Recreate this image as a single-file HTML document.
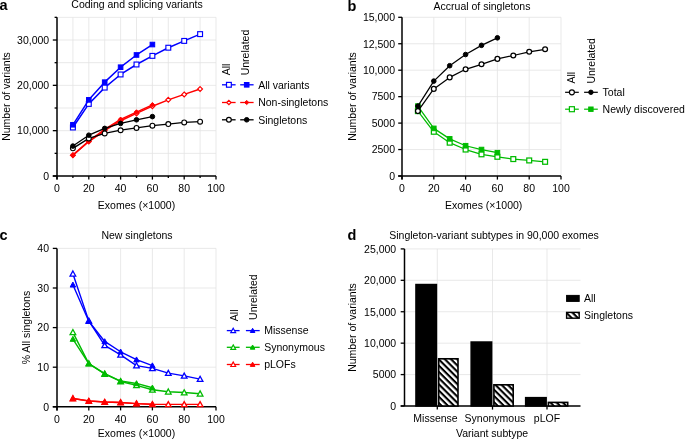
<!DOCTYPE html>
<html><head><meta charset="utf-8"><title>Figure</title><style>
html,body{margin:0;padding:0;background:#fff;overflow:hidden;}
svg{display:block;will-change:transform;}
text{font-family:"Liberation Sans",sans-serif;font-size:10.5px;fill:#000;}
.pl{font-weight:bold;font-size:14.5px;}
</style></head><body>
<svg width="685" height="440" viewBox="0 0 685 440">
<rect width="685" height="440" fill="#fff"/>
<line x1="72.9" y1="17.3" x2="72.9" y2="176" stroke="#e3e3e3" stroke-width="0.8" />
<line x1="88.8" y1="17.3" x2="88.8" y2="176" stroke="#e3e3e3" stroke-width="0.8" />
<line x1="104.7" y1="17.3" x2="104.7" y2="176" stroke="#e3e3e3" stroke-width="0.8" />
<line x1="120.6" y1="17.3" x2="120.6" y2="176" stroke="#e3e3e3" stroke-width="0.8" />
<line x1="136.5" y1="17.3" x2="136.5" y2="176" stroke="#e3e3e3" stroke-width="0.8" />
<line x1="152.4" y1="17.3" x2="152.4" y2="176" stroke="#e3e3e3" stroke-width="0.8" />
<line x1="168.3" y1="17.3" x2="168.3" y2="176" stroke="#e3e3e3" stroke-width="0.8" />
<line x1="184.2" y1="17.3" x2="184.2" y2="176" stroke="#e3e3e3" stroke-width="0.8" />
<line x1="200.1" y1="17.3" x2="200.1" y2="176" stroke="#e3e3e3" stroke-width="0.8" />
<line x1="216" y1="17.3" x2="216" y2="176" stroke="#e3e3e3" stroke-width="0.8" />
<line x1="57" y1="153.34" x2="216" y2="153.34" stroke="#e3e3e3" stroke-width="0.8" />
<line x1="57" y1="130.67" x2="216" y2="130.67" stroke="#e3e3e3" stroke-width="0.8" />
<line x1="57" y1="108.01" x2="216" y2="108.01" stroke="#e3e3e3" stroke-width="0.8" />
<line x1="57" y1="85.34" x2="216" y2="85.34" stroke="#e3e3e3" stroke-width="0.8" />
<line x1="57" y1="62.68" x2="216" y2="62.68" stroke="#e3e3e3" stroke-width="0.8" />
<line x1="57" y1="40.01" x2="216" y2="40.01" stroke="#e3e3e3" stroke-width="0.8" />
<line x1="57" y1="17.34" x2="216" y2="17.34" stroke="#e3e3e3" stroke-width="0.8" />
<line x1="57" y1="17.3" x2="57" y2="179.6" stroke="#000" stroke-width="1.5" />
<line x1="52.8" y1="176" x2="216" y2="176" stroke="#000" stroke-width="1.5" />
<line x1="52.8" y1="176" x2="57" y2="176" stroke="#000" stroke-width="1.3" />
<line x1="54.6" y1="153.34" x2="57" y2="153.34" stroke="#000" stroke-width="1.3" />
<line x1="52.8" y1="130.67" x2="57" y2="130.67" stroke="#000" stroke-width="1.3" />
<line x1="54.6" y1="108.01" x2="57" y2="108.01" stroke="#000" stroke-width="1.3" />
<line x1="52.8" y1="85.34" x2="57" y2="85.34" stroke="#000" stroke-width="1.3" />
<line x1="54.6" y1="62.68" x2="57" y2="62.68" stroke="#000" stroke-width="1.3" />
<line x1="52.8" y1="40.01" x2="57" y2="40.01" stroke="#000" stroke-width="1.3" />
<line x1="54.6" y1="17.34" x2="57" y2="17.34" stroke="#000" stroke-width="1.3" />
<line x1="57" y1="176" x2="57" y2="179.6" stroke="#000" stroke-width="1.3" />
<line x1="72.9" y1="176" x2="72.9" y2="177.9" stroke="#000" stroke-width="1.3" />
<line x1="88.8" y1="176" x2="88.8" y2="179.6" stroke="#000" stroke-width="1.3" />
<line x1="104.7" y1="176" x2="104.7" y2="177.9" stroke="#000" stroke-width="1.3" />
<line x1="120.6" y1="176" x2="120.6" y2="179.6" stroke="#000" stroke-width="1.3" />
<line x1="136.5" y1="176" x2="136.5" y2="177.9" stroke="#000" stroke-width="1.3" />
<line x1="152.4" y1="176" x2="152.4" y2="179.6" stroke="#000" stroke-width="1.3" />
<line x1="168.3" y1="176" x2="168.3" y2="177.9" stroke="#000" stroke-width="1.3" />
<line x1="184.2" y1="176" x2="184.2" y2="179.6" stroke="#000" stroke-width="1.3" />
<line x1="200.1" y1="176" x2="200.1" y2="177.9" stroke="#000" stroke-width="1.3" />
<line x1="216" y1="176" x2="216" y2="179.6" stroke="#000" stroke-width="1.3" />
<text x="49.2" y="179.8" text-anchor="end" >0</text>
<text x="49.2" y="134.47" text-anchor="end" >10,000</text>
<text x="49.2" y="89.14" text-anchor="end" >20,000</text>
<text x="49.2" y="43.81" text-anchor="end" >30,000</text>
<text x="57" y="191.8" text-anchor="middle" >0</text>
<text x="88.8" y="191.8" text-anchor="middle" >20</text>
<text x="120.6" y="191.8" text-anchor="middle" >40</text>
<text x="152.4" y="191.8" text-anchor="middle" >60</text>
<text x="184.2" y="191.8" text-anchor="middle" >80</text>
<text x="216" y="191.8" text-anchor="middle" >100</text>
<text x="136.5" y="208.8" text-anchor="middle" >Exomes (×1000)</text>
<text transform="translate(10,96.5) rotate(-90)" text-anchor="middle">Number of variants</text>
<text x="137" y="8" text-anchor="middle" >Coding and splicing variants</text>
<polyline points="72.9,127.5 88.8,103.93 104.7,87.61 120.6,74.46 136.5,64.49 152.4,55.88 168.3,47.72 184.2,40.92 200.1,34.12" fill="none" stroke="#0000ff" stroke-width="1.5" stroke-linejoin="round"/>
<rect x="70.48" y="125.07" width="4.85" height="4.85" fill="#fff" stroke="#0000ff" stroke-width="1.15"/>
<rect x="86.38" y="101.5" width="4.85" height="4.85" fill="#fff" stroke="#0000ff" stroke-width="1.15"/>
<rect x="102.28" y="85.18" width="4.85" height="4.85" fill="#fff" stroke="#0000ff" stroke-width="1.15"/>
<rect x="118.17" y="72.04" width="4.85" height="4.85" fill="#fff" stroke="#0000ff" stroke-width="1.15"/>
<rect x="134.07" y="62.06" width="4.85" height="4.85" fill="#fff" stroke="#0000ff" stroke-width="1.15"/>
<rect x="149.97" y="53.45" width="4.85" height="4.85" fill="#fff" stroke="#0000ff" stroke-width="1.15"/>
<rect x="165.88" y="45.29" width="4.85" height="4.85" fill="#fff" stroke="#0000ff" stroke-width="1.15"/>
<rect x="181.77" y="38.49" width="4.85" height="4.85" fill="#fff" stroke="#0000ff" stroke-width="1.15"/>
<rect x="197.67" y="31.69" width="4.85" height="4.85" fill="#fff" stroke="#0000ff" stroke-width="1.15"/>
<polyline points="72.9,124.78 88.8,99.85 104.7,82.17 120.6,67.21 136.5,54.97 152.4,44.54" fill="none" stroke="#0000ff" stroke-width="1.5" stroke-linejoin="round"/>
<rect x="70.6" y="122.48" width="4.6" height="4.6" fill="#0000ff" stroke="#0000ff" stroke-width="1"/>
<rect x="86.5" y="97.55" width="4.6" height="4.6" fill="#0000ff" stroke="#0000ff" stroke-width="1"/>
<rect x="102.4" y="79.87" width="4.6" height="4.6" fill="#0000ff" stroke="#0000ff" stroke-width="1"/>
<rect x="118.3" y="64.91" width="4.6" height="4.6" fill="#0000ff" stroke="#0000ff" stroke-width="1"/>
<rect x="134.2" y="52.67" width="4.6" height="4.6" fill="#0000ff" stroke="#0000ff" stroke-width="1"/>
<rect x="150.1" y="42.24" width="4.6" height="4.6" fill="#0000ff" stroke="#0000ff" stroke-width="1"/>
<polyline points="72.9,155.15 88.8,141.55 104.7,130.67 120.6,120.7 136.5,113.44 152.4,106.19 168.3,99.85 184.2,94.41 200.1,88.97" fill="none" stroke="#ff0000" stroke-width="1.5" stroke-linejoin="round"/>
<path d="M72.9,152.72L75.33,155.15L72.9,157.57L70.48,155.15Z" fill="#fff" stroke="#ff0000" stroke-width="1.15" stroke-linejoin="miter"/>
<path d="M88.8,139.12L91.22,141.55L88.8,143.97L86.38,141.55Z" fill="#fff" stroke="#ff0000" stroke-width="1.15" stroke-linejoin="miter"/>
<path d="M104.7,128.25L107.12,130.67L104.7,133.1L102.28,130.67Z" fill="#fff" stroke="#ff0000" stroke-width="1.15" stroke-linejoin="miter"/>
<path d="M120.6,118.27L123.02,120.7L120.6,123.12L118.17,120.7Z" fill="#fff" stroke="#ff0000" stroke-width="1.15" stroke-linejoin="miter"/>
<path d="M136.5,111.02L138.93,113.44L136.5,115.87L134.07,113.44Z" fill="#fff" stroke="#ff0000" stroke-width="1.15" stroke-linejoin="miter"/>
<path d="M152.4,103.77L154.83,106.19L152.4,108.62L149.97,106.19Z" fill="#fff" stroke="#ff0000" stroke-width="1.15" stroke-linejoin="miter"/>
<path d="M168.3,97.42L170.73,99.85L168.3,102.27L165.88,99.85Z" fill="#fff" stroke="#ff0000" stroke-width="1.15" stroke-linejoin="miter"/>
<path d="M184.2,91.98L186.62,94.41L184.2,96.83L181.77,94.41Z" fill="#fff" stroke="#ff0000" stroke-width="1.15" stroke-linejoin="miter"/>
<path d="M200.1,86.54L202.53,88.97L200.1,91.39L197.67,88.97Z" fill="#fff" stroke="#ff0000" stroke-width="1.15" stroke-linejoin="miter"/>
<polyline points="72.9,155.15 88.8,141.1 104.7,129.31 120.6,119.34 136.5,112.08 152.4,104.83" fill="none" stroke="#ff0000" stroke-width="1.5" stroke-linejoin="round"/>
<path d="M72.9,152.85L75.2,155.15L72.9,157.45L70.6,155.15Z" fill="#ff0000" stroke="#ff0000" stroke-width="1" stroke-linejoin="miter"/>
<path d="M88.8,138.8L91.1,141.1L88.8,143.4L86.5,141.1Z" fill="#ff0000" stroke="#ff0000" stroke-width="1" stroke-linejoin="miter"/>
<path d="M104.7,127.01L107,129.31L104.7,131.61L102.4,129.31Z" fill="#ff0000" stroke="#ff0000" stroke-width="1" stroke-linejoin="miter"/>
<path d="M120.6,117.04L122.9,119.34L120.6,121.64L118.3,119.34Z" fill="#ff0000" stroke="#ff0000" stroke-width="1" stroke-linejoin="miter"/>
<path d="M136.5,109.78L138.8,112.08L136.5,114.38L134.2,112.08Z" fill="#ff0000" stroke="#ff0000" stroke-width="1" stroke-linejoin="miter"/>
<path d="M152.4,102.53L154.7,104.83L152.4,107.13L150.1,104.83Z" fill="#ff0000" stroke="#ff0000" stroke-width="1" stroke-linejoin="miter"/>
<polyline points="72.9,148.35 88.8,138.38 104.7,133.39 120.6,130.22 136.5,127.95 152.4,125.68 168.3,124.1 184.2,122.42 200.1,121.69" fill="none" stroke="#000" stroke-width="1.3" stroke-linejoin="round"/>
<circle cx="72.9" cy="148.35" r="2.42" fill="#fff" stroke="#000" stroke-width="1.15"/>
<circle cx="88.8" cy="138.38" r="2.42" fill="#fff" stroke="#000" stroke-width="1.15"/>
<circle cx="104.7" cy="133.39" r="2.42" fill="#fff" stroke="#000" stroke-width="1.15"/>
<circle cx="120.6" cy="130.22" r="2.42" fill="#fff" stroke="#000" stroke-width="1.15"/>
<circle cx="136.5" cy="127.95" r="2.42" fill="#fff" stroke="#000" stroke-width="1.15"/>
<circle cx="152.4" cy="125.68" r="2.42" fill="#fff" stroke="#000" stroke-width="1.15"/>
<circle cx="168.3" cy="124.1" r="2.42" fill="#fff" stroke="#000" stroke-width="1.15"/>
<circle cx="184.2" cy="122.42" r="2.42" fill="#fff" stroke="#000" stroke-width="1.15"/>
<circle cx="200.1" cy="121.69" r="2.42" fill="#fff" stroke="#000" stroke-width="1.15"/>
<polyline points="72.9,146.08 88.8,135.2 104.7,128.4 120.6,123.42 136.5,119.79 152.4,116.62" fill="none" stroke="#000" stroke-width="1.3" stroke-linejoin="round"/>
<circle cx="72.9" cy="146.08" r="2.3" fill="#000" stroke="#000" stroke-width="1"/>
<circle cx="88.8" cy="135.2" r="2.3" fill="#000" stroke="#000" stroke-width="1"/>
<circle cx="104.7" cy="128.4" r="2.3" fill="#000" stroke="#000" stroke-width="1"/>
<circle cx="120.6" cy="123.42" r="2.3" fill="#000" stroke="#000" stroke-width="1"/>
<circle cx="136.5" cy="119.79" r="2.3" fill="#000" stroke="#000" stroke-width="1"/>
<circle cx="152.4" cy="116.62" r="2.3" fill="#000" stroke="#000" stroke-width="1"/>
<text transform="translate(229.8,75.3) rotate(-90)" text-anchor="start">All</text>
<text transform="translate(249.2,75.3) rotate(-90)" text-anchor="start">Unrelated</text>
<line x1="222" y1="84.8" x2="235.6" y2="84.8" stroke="#0000ff" stroke-width="1.3" />
<line x1="240.2" y1="84.8" x2="253.6" y2="84.8" stroke="#0000ff" stroke-width="1.3" />
<rect x="226.5" y="82.4" width="4.8" height="4.8" fill="#fff" stroke="#0000ff" stroke-width="1.2"/>
<rect x="244.4" y="82.5" width="4.6" height="4.6" fill="#0000ff" stroke="#0000ff" stroke-width="1"/>
<text x="258.2" y="88.6" text-anchor="start" >All variants</text>
<line x1="222" y1="102.5" x2="235.6" y2="102.5" stroke="#ff0000" stroke-width="1.3" />
<line x1="240.2" y1="102.5" x2="253.6" y2="102.5" stroke="#ff0000" stroke-width="1.3" />
<path d="M228.9,100.3L231.1,102.5L228.9,104.7L226.7,102.5Z" fill="#fff" stroke="#ff0000" stroke-width="1.2" stroke-linejoin="miter"/>
<path d="M246.7,100.4L248.8,102.5L246.7,104.6L244.6,102.5Z" fill="#ff0000" stroke="#ff0000" stroke-width="1" stroke-linejoin="miter"/>
<text x="258.2" y="106.3" text-anchor="start" >Non-singletons</text>
<line x1="222" y1="119.8" x2="235.6" y2="119.8" stroke="#000" stroke-width="1.3" />
<line x1="240.2" y1="119.8" x2="253.6" y2="119.8" stroke="#000" stroke-width="1.3" />
<circle cx="228.9" cy="119.8" r="2.4" fill="#fff" stroke="#000" stroke-width="1.2"/>
<circle cx="246.7" cy="119.8" r="2.3" fill="#000" stroke="#000" stroke-width="1"/>
<text x="258.2" y="123.6" text-anchor="start" >Singletons</text>
<line x1="433.8" y1="17.3" x2="433.8" y2="176" stroke="#e3e3e3" stroke-width="0.8" />
<line x1="465.6" y1="17.3" x2="465.6" y2="176" stroke="#e3e3e3" stroke-width="0.8" />
<line x1="497.4" y1="17.3" x2="497.4" y2="176" stroke="#e3e3e3" stroke-width="0.8" />
<line x1="529.2" y1="17.3" x2="529.2" y2="176" stroke="#e3e3e3" stroke-width="0.8" />
<line x1="561" y1="17.3" x2="561" y2="176" stroke="#e3e3e3" stroke-width="0.8" />
<line x1="402" y1="149.55" x2="561" y2="149.55" stroke="#e3e3e3" stroke-width="0.8" />
<line x1="402" y1="123.1" x2="561" y2="123.1" stroke="#e3e3e3" stroke-width="0.8" />
<line x1="402" y1="96.65" x2="561" y2="96.65" stroke="#e3e3e3" stroke-width="0.8" />
<line x1="402" y1="70.2" x2="561" y2="70.2" stroke="#e3e3e3" stroke-width="0.8" />
<line x1="402" y1="43.75" x2="561" y2="43.75" stroke="#e3e3e3" stroke-width="0.8" />
<line x1="402" y1="17.3" x2="561" y2="17.3" stroke="#e3e3e3" stroke-width="0.8" />
<line x1="402" y1="17.3" x2="402" y2="179.6" stroke="#000" stroke-width="1.5" />
<line x1="398.2" y1="176" x2="561" y2="176" stroke="#000" stroke-width="1.5" />
<line x1="398.2" y1="176" x2="402" y2="176" stroke="#000" stroke-width="1.3" />
<text x="395" y="179.8" text-anchor="end" >0</text>
<line x1="398.2" y1="149.55" x2="402" y2="149.55" stroke="#000" stroke-width="1.3" />
<text x="395" y="153.35" text-anchor="end" >2500</text>
<line x1="398.2" y1="123.1" x2="402" y2="123.1" stroke="#000" stroke-width="1.3" />
<text x="395" y="126.9" text-anchor="end" >5000</text>
<line x1="398.2" y1="96.65" x2="402" y2="96.65" stroke="#000" stroke-width="1.3" />
<text x="395" y="100.45" text-anchor="end" >7500</text>
<line x1="398.2" y1="70.2" x2="402" y2="70.2" stroke="#000" stroke-width="1.3" />
<text x="395" y="74" text-anchor="end" >10,000</text>
<line x1="398.2" y1="43.75" x2="402" y2="43.75" stroke="#000" stroke-width="1.3" />
<text x="395" y="47.55" text-anchor="end" >12,500</text>
<line x1="398.2" y1="17.3" x2="402" y2="17.3" stroke="#000" stroke-width="1.3" />
<text x="395" y="21.1" text-anchor="end" >15,000</text>
<line x1="402" y1="176" x2="402" y2="179.6" stroke="#000" stroke-width="1.3" />
<text x="402" y="191.8" text-anchor="middle" >0</text>
<line x1="433.8" y1="176" x2="433.8" y2="179.6" stroke="#000" stroke-width="1.3" />
<text x="433.8" y="191.8" text-anchor="middle" >20</text>
<line x1="465.6" y1="176" x2="465.6" y2="179.6" stroke="#000" stroke-width="1.3" />
<text x="465.6" y="191.8" text-anchor="middle" >40</text>
<line x1="497.4" y1="176" x2="497.4" y2="179.6" stroke="#000" stroke-width="1.3" />
<text x="497.4" y="191.8" text-anchor="middle" >60</text>
<line x1="529.2" y1="176" x2="529.2" y2="179.6" stroke="#000" stroke-width="1.3" />
<text x="529.2" y="191.8" text-anchor="middle" >80</text>
<line x1="561" y1="176" x2="561" y2="179.6" stroke="#000" stroke-width="1.3" />
<text x="561" y="191.8" text-anchor="middle" >100</text>
<text x="483.7" y="209.2" text-anchor="middle" >Exomes (×1000)</text>
<text transform="translate(356,96.5) rotate(-90)" text-anchor="middle">Number of variants</text>
<text x="482" y="9.6" text-anchor="middle" >Accrual of singletons</text>
<polyline points="417.9,111.1 433.8,131.78 449.7,142.67 465.6,149.55 481.5,154.31 497.4,156.8 513.3,159.07 529.2,160.45 545.1,161.82" fill="none" stroke="#00bb00" stroke-width="1.25" stroke-linejoin="round"/>
<polyline points="417.9,106.11 433.8,128.39 449.7,138.86 465.6,145.74 481.5,149.55 497.4,152.72" fill="none" stroke="#00bb00" stroke-width="1.25" stroke-linejoin="round"/>
<rect x="415.47" y="108.68" width="4.85" height="4.85" fill="#fff" stroke="#00bb00" stroke-width="1.25"/>
<rect x="431.38" y="129.35" width="4.85" height="4.85" fill="#fff" stroke="#00bb00" stroke-width="1.25"/>
<rect x="447.27" y="140.25" width="4.85" height="4.85" fill="#fff" stroke="#00bb00" stroke-width="1.25"/>
<rect x="463.18" y="147.12" width="4.85" height="4.85" fill="#fff" stroke="#00bb00" stroke-width="1.25"/>
<rect x="479.07" y="151.89" width="4.85" height="4.85" fill="#fff" stroke="#00bb00" stroke-width="1.25"/>
<rect x="494.97" y="154.37" width="4.85" height="4.85" fill="#fff" stroke="#00bb00" stroke-width="1.25"/>
<rect x="510.87" y="156.65" width="4.85" height="4.85" fill="#fff" stroke="#00bb00" stroke-width="1.25"/>
<rect x="526.78" y="158.02" width="4.85" height="4.85" fill="#fff" stroke="#00bb00" stroke-width="1.25"/>
<rect x="542.68" y="159.4" width="4.85" height="4.85" fill="#fff" stroke="#00bb00" stroke-width="1.25"/>
<rect x="415.6" y="103.81" width="4.6" height="4.6" fill="#00bb00" stroke="#00bb00" stroke-width="1"/>
<rect x="431.5" y="126.09" width="4.6" height="4.6" fill="#00bb00" stroke="#00bb00" stroke-width="1"/>
<rect x="447.4" y="136.56" width="4.6" height="4.6" fill="#00bb00" stroke="#00bb00" stroke-width="1"/>
<rect x="463.3" y="143.44" width="4.6" height="4.6" fill="#00bb00" stroke="#00bb00" stroke-width="1"/>
<rect x="479.2" y="147.25" width="4.6" height="4.6" fill="#00bb00" stroke="#00bb00" stroke-width="1"/>
<rect x="495.1" y="150.42" width="4.6" height="4.6" fill="#00bb00" stroke="#00bb00" stroke-width="1"/>
<polyline points="417.9,111.1 433.8,88.91 449.7,77.39 465.6,69.3 481.5,64.28 497.4,58.88 513.3,55.49 529.2,51.79 545.1,49.3" fill="none" stroke="#000" stroke-width="1.25" stroke-linejoin="round"/>
<polyline points="417.9,106.11 433.8,81.1 449.7,65.7 465.6,54.54 481.5,45.34 497.4,37.83" fill="none" stroke="#000" stroke-width="1.25" stroke-linejoin="round"/>
<circle cx="417.9" cy="111.1" r="2.42" fill="#fff" stroke="#000" stroke-width="1.25"/>
<circle cx="433.8" cy="88.91" r="2.42" fill="#fff" stroke="#000" stroke-width="1.25"/>
<circle cx="449.7" cy="77.39" r="2.42" fill="#fff" stroke="#000" stroke-width="1.25"/>
<circle cx="465.6" cy="69.3" r="2.42" fill="#fff" stroke="#000" stroke-width="1.25"/>
<circle cx="481.5" cy="64.28" r="2.42" fill="#fff" stroke="#000" stroke-width="1.25"/>
<circle cx="497.4" cy="58.88" r="2.42" fill="#fff" stroke="#000" stroke-width="1.25"/>
<circle cx="513.3" cy="55.49" r="2.42" fill="#fff" stroke="#000" stroke-width="1.25"/>
<circle cx="529.2" cy="51.79" r="2.42" fill="#fff" stroke="#000" stroke-width="1.25"/>
<circle cx="545.1" cy="49.3" r="2.42" fill="#fff" stroke="#000" stroke-width="1.25"/>
<circle cx="417.9" cy="106.11" r="2.3" fill="#000" stroke="#000" stroke-width="1"/>
<circle cx="433.8" cy="81.1" r="2.3" fill="#000" stroke="#000" stroke-width="1"/>
<circle cx="449.7" cy="65.7" r="2.3" fill="#000" stroke="#000" stroke-width="1"/>
<circle cx="465.6" cy="54.54" r="2.3" fill="#000" stroke="#000" stroke-width="1"/>
<circle cx="481.5" cy="45.34" r="2.3" fill="#000" stroke="#000" stroke-width="1"/>
<circle cx="497.4" cy="37.83" r="2.3" fill="#000" stroke="#000" stroke-width="1"/>
<text transform="translate(575.3,83.6) rotate(-90)" text-anchor="start">All</text>
<text transform="translate(594.8,83.6) rotate(-90)" text-anchor="start">Unrelated</text>
<line x1="565.1" y1="92.3" x2="578.8" y2="92.3" stroke="#000" stroke-width="1.2" />
<line x1="584.1" y1="92.3" x2="597.8" y2="92.3" stroke="#000" stroke-width="1.2" />
<circle cx="571.9" cy="92.3" r="2.5" fill="#fff" stroke="#000" stroke-width="1.2"/>
<circle cx="590.9" cy="92.3" r="2.2" fill="#000" stroke="#000" stroke-width="1"/>
<text x="602.6" y="96.1" text-anchor="start" >Total</text>
<line x1="565.1" y1="109.2" x2="578.8" y2="109.2" stroke="#00bb00" stroke-width="1.2" />
<line x1="584.1" y1="109.2" x2="597.8" y2="109.2" stroke="#00bb00" stroke-width="1.2" />
<rect x="569.4" y="106.7" width="5" height="5" fill="#fff" stroke="#00bb00" stroke-width="1.2"/>
<rect x="588.7" y="107" width="4.4" height="4.4" fill="#00bb00" stroke="#00bb00" stroke-width="1"/>
<text x="602.6" y="113" text-anchor="start" >Newly discovered</text>
<line x1="88.8" y1="248.4" x2="88.8" y2="406.8" stroke="#e3e3e3" stroke-width="0.8" />
<line x1="120.6" y1="248.4" x2="120.6" y2="406.8" stroke="#e3e3e3" stroke-width="0.8" />
<line x1="152.4" y1="248.4" x2="152.4" y2="406.8" stroke="#e3e3e3" stroke-width="0.8" />
<line x1="184.2" y1="248.4" x2="184.2" y2="406.8" stroke="#e3e3e3" stroke-width="0.8" />
<line x1="216" y1="248.4" x2="216" y2="406.8" stroke="#e3e3e3" stroke-width="0.8" />
<line x1="57" y1="367.2" x2="216" y2="367.2" stroke="#e3e3e3" stroke-width="0.8" />
<line x1="57" y1="327.6" x2="216" y2="327.6" stroke="#e3e3e3" stroke-width="0.8" />
<line x1="57" y1="288" x2="216" y2="288" stroke="#e3e3e3" stroke-width="0.8" />
<line x1="57" y1="248.4" x2="216" y2="248.4" stroke="#e3e3e3" stroke-width="0.8" />
<line x1="57" y1="248.4" x2="57" y2="410.4" stroke="#000" stroke-width="1.5" />
<line x1="52.8" y1="406.8" x2="216" y2="406.8" stroke="#000" stroke-width="1.5" />
<line x1="52.8" y1="406.8" x2="57" y2="406.8" stroke="#000" stroke-width="1.3" />
<text x="49" y="410.6" text-anchor="end" >0</text>
<line x1="52.8" y1="367.2" x2="57" y2="367.2" stroke="#000" stroke-width="1.3" />
<text x="49" y="371" text-anchor="end" >10</text>
<line x1="52.8" y1="327.6" x2="57" y2="327.6" stroke="#000" stroke-width="1.3" />
<text x="49" y="331.4" text-anchor="end" >20</text>
<line x1="52.8" y1="288" x2="57" y2="288" stroke="#000" stroke-width="1.3" />
<text x="49" y="291.8" text-anchor="end" >30</text>
<line x1="52.8" y1="248.4" x2="57" y2="248.4" stroke="#000" stroke-width="1.3" />
<text x="49" y="252.2" text-anchor="end" >40</text>
<line x1="57" y1="406.8" x2="57" y2="410.4" stroke="#000" stroke-width="1.3" />
<text x="57" y="422.7" text-anchor="middle" >0</text>
<line x1="88.8" y1="406.8" x2="88.8" y2="410.4" stroke="#000" stroke-width="1.3" />
<text x="88.8" y="422.7" text-anchor="middle" >20</text>
<line x1="120.6" y1="406.8" x2="120.6" y2="410.4" stroke="#000" stroke-width="1.3" />
<text x="120.6" y="422.7" text-anchor="middle" >40</text>
<line x1="152.4" y1="406.8" x2="152.4" y2="410.4" stroke="#000" stroke-width="1.3" />
<text x="152.4" y="422.7" text-anchor="middle" >60</text>
<line x1="184.2" y1="406.8" x2="184.2" y2="410.4" stroke="#000" stroke-width="1.3" />
<text x="184.2" y="422.7" text-anchor="middle" >80</text>
<line x1="216" y1="406.8" x2="216" y2="410.4" stroke="#000" stroke-width="1.3" />
<text x="216" y="422.7" text-anchor="middle" >100</text>
<text x="136.5" y="436.8" text-anchor="middle" >Exomes (×1000)</text>
<text transform="translate(29.5,327.6) rotate(-90)" text-anchor="middle">% All singletons</text>
<text x="137" y="239" text-anchor="middle" >New singletons</text>
<polyline points="72.9,398.48 88.8,401.06 104.7,402.05 120.6,402.44 136.5,403.63 152.4,404.42 168.3,404.42 184.2,404.42 200.1,404.42" fill="none" stroke="#ff0000" stroke-width="1.4" stroke-linejoin="round"/>
<polyline points="72.9,398.48 88.8,400.86 104.7,402.05 120.6,402.44 136.5,403.63 152.4,404.23" fill="none" stroke="#ff0000" stroke-width="1.4" stroke-linejoin="round"/>
<path d="M72.9,395.68L75.71,400.78L70.09,400.78Z" fill="#fff" stroke="#ff0000" stroke-width="1.3" stroke-linejoin="miter"/>
<path d="M88.8,398.25L91.61,403.35L85.99,403.35Z" fill="#fff" stroke="#ff0000" stroke-width="1.3" stroke-linejoin="miter"/>
<path d="M104.7,399.24L107.51,404.34L101.89,404.34Z" fill="#fff" stroke="#ff0000" stroke-width="1.3" stroke-linejoin="miter"/>
<path d="M120.6,399.64L123.41,404.74L117.79,404.74Z" fill="#fff" stroke="#ff0000" stroke-width="1.3" stroke-linejoin="miter"/>
<path d="M136.5,400.83L139.31,405.93L133.69,405.93Z" fill="#fff" stroke="#ff0000" stroke-width="1.3" stroke-linejoin="miter"/>
<path d="M152.4,401.62L155.21,406.72L149.59,406.72Z" fill="#fff" stroke="#ff0000" stroke-width="1.3" stroke-linejoin="miter"/>
<path d="M168.3,401.62L171.11,406.72L165.5,406.72Z" fill="#fff" stroke="#ff0000" stroke-width="1.3" stroke-linejoin="miter"/>
<path d="M184.2,401.62L187,406.72L181.39,406.72Z" fill="#fff" stroke="#ff0000" stroke-width="1.3" stroke-linejoin="miter"/>
<path d="M200.1,401.62L202.91,406.72L197.29,406.72Z" fill="#fff" stroke="#ff0000" stroke-width="1.3" stroke-linejoin="miter"/>
<path d="M72.9,395.73L75.65,400.73L70.15,400.73Z" fill="#ff0000" stroke="#ff0000" stroke-width="1" stroke-linejoin="miter"/>
<path d="M88.8,398.11L91.55,403.11L86.05,403.11Z" fill="#ff0000" stroke="#ff0000" stroke-width="1" stroke-linejoin="miter"/>
<path d="M104.7,399.3L107.45,404.3L101.95,404.3Z" fill="#ff0000" stroke="#ff0000" stroke-width="1" stroke-linejoin="miter"/>
<path d="M120.6,399.69L123.35,404.69L117.85,404.69Z" fill="#ff0000" stroke="#ff0000" stroke-width="1" stroke-linejoin="miter"/>
<path d="M136.5,400.88L139.25,405.88L133.75,405.88Z" fill="#ff0000" stroke="#ff0000" stroke-width="1" stroke-linejoin="miter"/>
<path d="M152.4,401.48L155.15,406.48L149.65,406.48Z" fill="#ff0000" stroke="#ff0000" stroke-width="1" stroke-linejoin="miter"/>
<polyline points="72.9,332.35 88.8,363.64 104.7,373.93 120.6,381.46 136.5,385.42 152.4,389.77 168.3,391.75 184.2,392.54 200.1,393.73" fill="none" stroke="#00bb00" stroke-width="1.4" stroke-linejoin="round"/>
<polyline points="72.9,339.08 88.8,363.64 104.7,373.54 120.6,381.06 136.5,383.44 152.4,387.79" fill="none" stroke="#00bb00" stroke-width="1.4" stroke-linejoin="round"/>
<path d="M72.9,329.55L75.71,334.65L70.09,334.65Z" fill="#fff" stroke="#00bb00" stroke-width="1.3" stroke-linejoin="miter"/>
<path d="M88.8,360.83L91.61,365.93L85.99,365.93Z" fill="#fff" stroke="#00bb00" stroke-width="1.3" stroke-linejoin="miter"/>
<path d="M104.7,371.13L107.51,376.23L101.89,376.23Z" fill="#fff" stroke="#00bb00" stroke-width="1.3" stroke-linejoin="miter"/>
<path d="M120.6,378.65L123.41,383.75L117.79,383.75Z" fill="#fff" stroke="#00bb00" stroke-width="1.3" stroke-linejoin="miter"/>
<path d="M136.5,382.61L139.31,387.71L133.69,387.71Z" fill="#fff" stroke="#00bb00" stroke-width="1.3" stroke-linejoin="miter"/>
<path d="M152.4,386.97L155.21,392.07L149.59,392.07Z" fill="#fff" stroke="#00bb00" stroke-width="1.3" stroke-linejoin="miter"/>
<path d="M168.3,388.95L171.11,394.05L165.5,394.05Z" fill="#fff" stroke="#00bb00" stroke-width="1.3" stroke-linejoin="miter"/>
<path d="M184.2,389.74L187,394.84L181.39,394.84Z" fill="#fff" stroke="#00bb00" stroke-width="1.3" stroke-linejoin="miter"/>
<path d="M200.1,390.93L202.91,396.03L197.29,396.03Z" fill="#fff" stroke="#00bb00" stroke-width="1.3" stroke-linejoin="miter"/>
<path d="M72.9,336.33L75.65,341.33L70.15,341.33Z" fill="#00bb00" stroke="#00bb00" stroke-width="1" stroke-linejoin="miter"/>
<path d="M88.8,360.89L91.55,365.89L86.05,365.89Z" fill="#00bb00" stroke="#00bb00" stroke-width="1" stroke-linejoin="miter"/>
<path d="M104.7,370.79L107.45,375.79L101.95,375.79Z" fill="#00bb00" stroke="#00bb00" stroke-width="1" stroke-linejoin="miter"/>
<path d="M120.6,378.31L123.35,383.31L117.85,383.31Z" fill="#00bb00" stroke="#00bb00" stroke-width="1" stroke-linejoin="miter"/>
<path d="M136.5,380.69L139.25,385.69L133.75,385.69Z" fill="#00bb00" stroke="#00bb00" stroke-width="1" stroke-linejoin="miter"/>
<path d="M152.4,385.04L155.15,390.04L149.65,390.04Z" fill="#00bb00" stroke="#00bb00" stroke-width="1" stroke-linejoin="miter"/>
<polyline points="72.9,273.74 88.8,320.87 104.7,345.42 120.6,354.92 136.5,365.62 152.4,368.39 168.3,373.14 184.2,375.91 200.1,379.08" fill="none" stroke="#0000ff" stroke-width="1.4" stroke-linejoin="round"/>
<polyline points="72.9,284.83 88.8,321.26 104.7,341.46 120.6,351.76 136.5,359.68 152.4,365.62" fill="none" stroke="#0000ff" stroke-width="1.4" stroke-linejoin="round"/>
<path d="M72.9,270.94L75.71,276.04L70.09,276.04Z" fill="#fff" stroke="#0000ff" stroke-width="1.3" stroke-linejoin="miter"/>
<path d="M88.8,318.06L91.61,323.16L85.99,323.16Z" fill="#fff" stroke="#0000ff" stroke-width="1.3" stroke-linejoin="miter"/>
<path d="M104.7,342.62L107.51,347.72L101.89,347.72Z" fill="#fff" stroke="#0000ff" stroke-width="1.3" stroke-linejoin="miter"/>
<path d="M120.6,352.12L123.41,357.22L117.79,357.22Z" fill="#fff" stroke="#0000ff" stroke-width="1.3" stroke-linejoin="miter"/>
<path d="M136.5,362.81L139.31,367.91L133.69,367.91Z" fill="#fff" stroke="#0000ff" stroke-width="1.3" stroke-linejoin="miter"/>
<path d="M152.4,365.58L155.21,370.68L149.59,370.68Z" fill="#fff" stroke="#0000ff" stroke-width="1.3" stroke-linejoin="miter"/>
<path d="M168.3,370.33L171.11,375.44L165.5,375.44Z" fill="#fff" stroke="#0000ff" stroke-width="1.3" stroke-linejoin="miter"/>
<path d="M184.2,373.11L187,378.21L181.39,378.21Z" fill="#fff" stroke="#0000ff" stroke-width="1.3" stroke-linejoin="miter"/>
<path d="M200.1,376.28L202.91,381.38L197.29,381.38Z" fill="#fff" stroke="#0000ff" stroke-width="1.3" stroke-linejoin="miter"/>
<path d="M72.9,282.08L75.65,287.08L70.15,287.08Z" fill="#0000ff" stroke="#0000ff" stroke-width="1" stroke-linejoin="miter"/>
<path d="M88.8,318.51L91.55,323.51L86.05,323.51Z" fill="#0000ff" stroke="#0000ff" stroke-width="1" stroke-linejoin="miter"/>
<path d="M104.7,338.71L107.45,343.71L101.95,343.71Z" fill="#0000ff" stroke="#0000ff" stroke-width="1" stroke-linejoin="miter"/>
<path d="M120.6,349.01L123.35,354.01L117.85,354.01Z" fill="#0000ff" stroke="#0000ff" stroke-width="1" stroke-linejoin="miter"/>
<path d="M136.5,356.93L139.25,361.93L133.75,361.93Z" fill="#0000ff" stroke="#0000ff" stroke-width="1" stroke-linejoin="miter"/>
<path d="M152.4,362.87L155.15,367.87L149.65,367.87Z" fill="#0000ff" stroke="#0000ff" stroke-width="1" stroke-linejoin="miter"/>
<text transform="translate(237.9,321.2) rotate(-90)" text-anchor="start">All</text>
<text transform="translate(257.2,319.9) rotate(-90)" text-anchor="start">Unrelated</text>
<line x1="226.8" y1="330.6" x2="239.6" y2="330.6" stroke="#0000ff" stroke-width="1.3" />
<line x1="245.9" y1="330.6" x2="259.7" y2="330.6" stroke="#0000ff" stroke-width="1.3" />
<path d="M233.2,328.18L235.62,332.58L230.78,332.58Z" fill="#fff" stroke="#0000ff" stroke-width="1.2" stroke-linejoin="miter"/>
<path d="M252.6,328.29L254.91,332.49L250.29,332.49Z" fill="#0000ff" stroke="#0000ff" stroke-width="1" stroke-linejoin="miter"/>
<text x="264.2" y="334.4" text-anchor="start" >Missense</text>
<line x1="226.8" y1="347.3" x2="239.6" y2="347.3" stroke="#00bb00" stroke-width="1.3" />
<line x1="245.9" y1="347.3" x2="259.7" y2="347.3" stroke="#00bb00" stroke-width="1.3" />
<path d="M233.2,344.88L235.62,349.28L230.78,349.28Z" fill="#fff" stroke="#00bb00" stroke-width="1.2" stroke-linejoin="miter"/>
<path d="M252.6,344.99L254.91,349.19L250.29,349.19Z" fill="#00bb00" stroke="#00bb00" stroke-width="1" stroke-linejoin="miter"/>
<text x="264.2" y="351.1" text-anchor="start" >Synonymous</text>
<line x1="226.8" y1="364.5" x2="239.6" y2="364.5" stroke="#ff0000" stroke-width="1.3" />
<line x1="245.9" y1="364.5" x2="259.7" y2="364.5" stroke="#ff0000" stroke-width="1.3" />
<path d="M233.2,362.08L235.62,366.48L230.78,366.48Z" fill="#fff" stroke="#ff0000" stroke-width="1.2" stroke-linejoin="miter"/>
<path d="M252.6,362.19L254.91,366.39L250.29,366.39Z" fill="#ff0000" stroke="#ff0000" stroke-width="1" stroke-linejoin="miter"/>
<text x="264.2" y="368.3" text-anchor="start" >pLOFs</text>
<defs><pattern id="hatch" patternUnits="userSpaceOnUse" width="4.4" height="4.4" patternTransform="rotate(45)"><rect width="4.4" height="4.4" fill="#fff"/><rect width="4.4" height="2.1" fill="#000"/></pattern></defs>
<line x1="437.3" y1="248.9" x2="437.3" y2="406" stroke="#e3e3e3" stroke-width="0.8" />
<line x1="492.5" y1="248.9" x2="492.5" y2="406" stroke="#e3e3e3" stroke-width="0.8" />
<line x1="547" y1="248.9" x2="547" y2="406" stroke="#e3e3e3" stroke-width="0.8" />
<line x1="404.5" y1="374.58" x2="580.5" y2="374.58" stroke="#e3e3e3" stroke-width="0.8" />
<line x1="404.5" y1="343.16" x2="580.5" y2="343.16" stroke="#e3e3e3" stroke-width="0.8" />
<line x1="404.5" y1="311.74" x2="580.5" y2="311.74" stroke="#e3e3e3" stroke-width="0.8" />
<line x1="404.5" y1="280.32" x2="580.5" y2="280.32" stroke="#e3e3e3" stroke-width="0.8" />
<line x1="404.5" y1="248.9" x2="580.5" y2="248.9" stroke="#e3e3e3" stroke-width="0.8" />
<line x1="404.5" y1="248.9" x2="404.5" y2="406" stroke="#000" stroke-width="1.5" />
<line x1="400.7" y1="406" x2="580.5" y2="406" stroke="#000" stroke-width="1.5" />
<line x1="400.7" y1="406" x2="404.5" y2="406" stroke="#000" stroke-width="1.3" />
<text x="396.2" y="409.8" text-anchor="end" >0</text>
<line x1="400.7" y1="374.58" x2="404.5" y2="374.58" stroke="#000" stroke-width="1.3" />
<text x="396.2" y="378.38" text-anchor="end" >5000</text>
<line x1="400.7" y1="343.16" x2="404.5" y2="343.16" stroke="#000" stroke-width="1.3" />
<text x="396.2" y="346.96" text-anchor="end" >10,000</text>
<line x1="400.7" y1="311.74" x2="404.5" y2="311.74" stroke="#000" stroke-width="1.3" />
<text x="396.2" y="315.54" text-anchor="end" >15,000</text>
<line x1="400.7" y1="280.32" x2="404.5" y2="280.32" stroke="#000" stroke-width="1.3" />
<text x="396.2" y="284.12" text-anchor="end" >20,000</text>
<line x1="400.7" y1="248.9" x2="404.5" y2="248.9" stroke="#000" stroke-width="1.3" />
<text x="396.2" y="252.7" text-anchor="end" >25,000</text>
<line x1="437.3" y1="406" x2="437.3" y2="409.6" stroke="#000" stroke-width="1.3" />
<line x1="492.5" y1="406" x2="492.5" y2="409.6" stroke="#000" stroke-width="1.3" />
<line x1="547" y1="406" x2="547" y2="409.6" stroke="#000" stroke-width="1.3" />
<rect x="415.95" y="284.53" width="20.5" height="121.47" fill="#000" stroke="#000" stroke-width="1.5"/>
<rect x="438.7" y="358.79" width="19.3" height="47.21" fill="url(#hatch)" stroke="#000" stroke-width="1.6"/>
<rect x="471.15" y="342.02" width="20.5" height="63.98" fill="#000" stroke="#000" stroke-width="1.5"/>
<rect x="493.9" y="384.81" width="19.3" height="21.19" fill="url(#hatch)" stroke="#000" stroke-width="1.6"/>
<rect x="525.65" y="397.64" width="20.5" height="8.36" fill="#000" stroke="#000" stroke-width="1.5"/>
<rect x="548.4" y="402.4" width="19.3" height="3.6" fill="url(#hatch)" stroke="#000" stroke-width="1.6"/>
<text x="435.5" y="422.2" text-anchor="middle" >Missense</text>
<text x="494.9" y="422.2" text-anchor="middle" >Synonymous</text>
<text x="547" y="422.2" text-anchor="middle" >pLOF</text>
<text x="492" y="437.4" text-anchor="middle" >Variant subtype</text>
<text transform="translate(356.4,327.5) rotate(-90)" text-anchor="middle">Number of variants</text>
<text x="494" y="239" text-anchor="middle" >Singleton-variant subtypes in 90,000 exomes</text>
<rect x="566.6" y="295.4" width="12.6" height="6" fill="#000" stroke="#000" stroke-width="1"/>
<rect x="566.6" y="312.4" width="12.6" height="5.8" fill="url(#hatch)" stroke="#000" stroke-width="1.4"/>
<text x="584" y="302" text-anchor="start" >All</text>
<text x="584" y="319" text-anchor="start" >Singletons</text>
<text class="pl" x="-0.4" y="9.9">a</text>
<text class="pl" x="347.4" y="11.3">b</text>
<text class="pl" x="-0.6" y="240.3">c</text>
<text class="pl" x="347.4" y="239.8">d</text>
</svg></body></html>
